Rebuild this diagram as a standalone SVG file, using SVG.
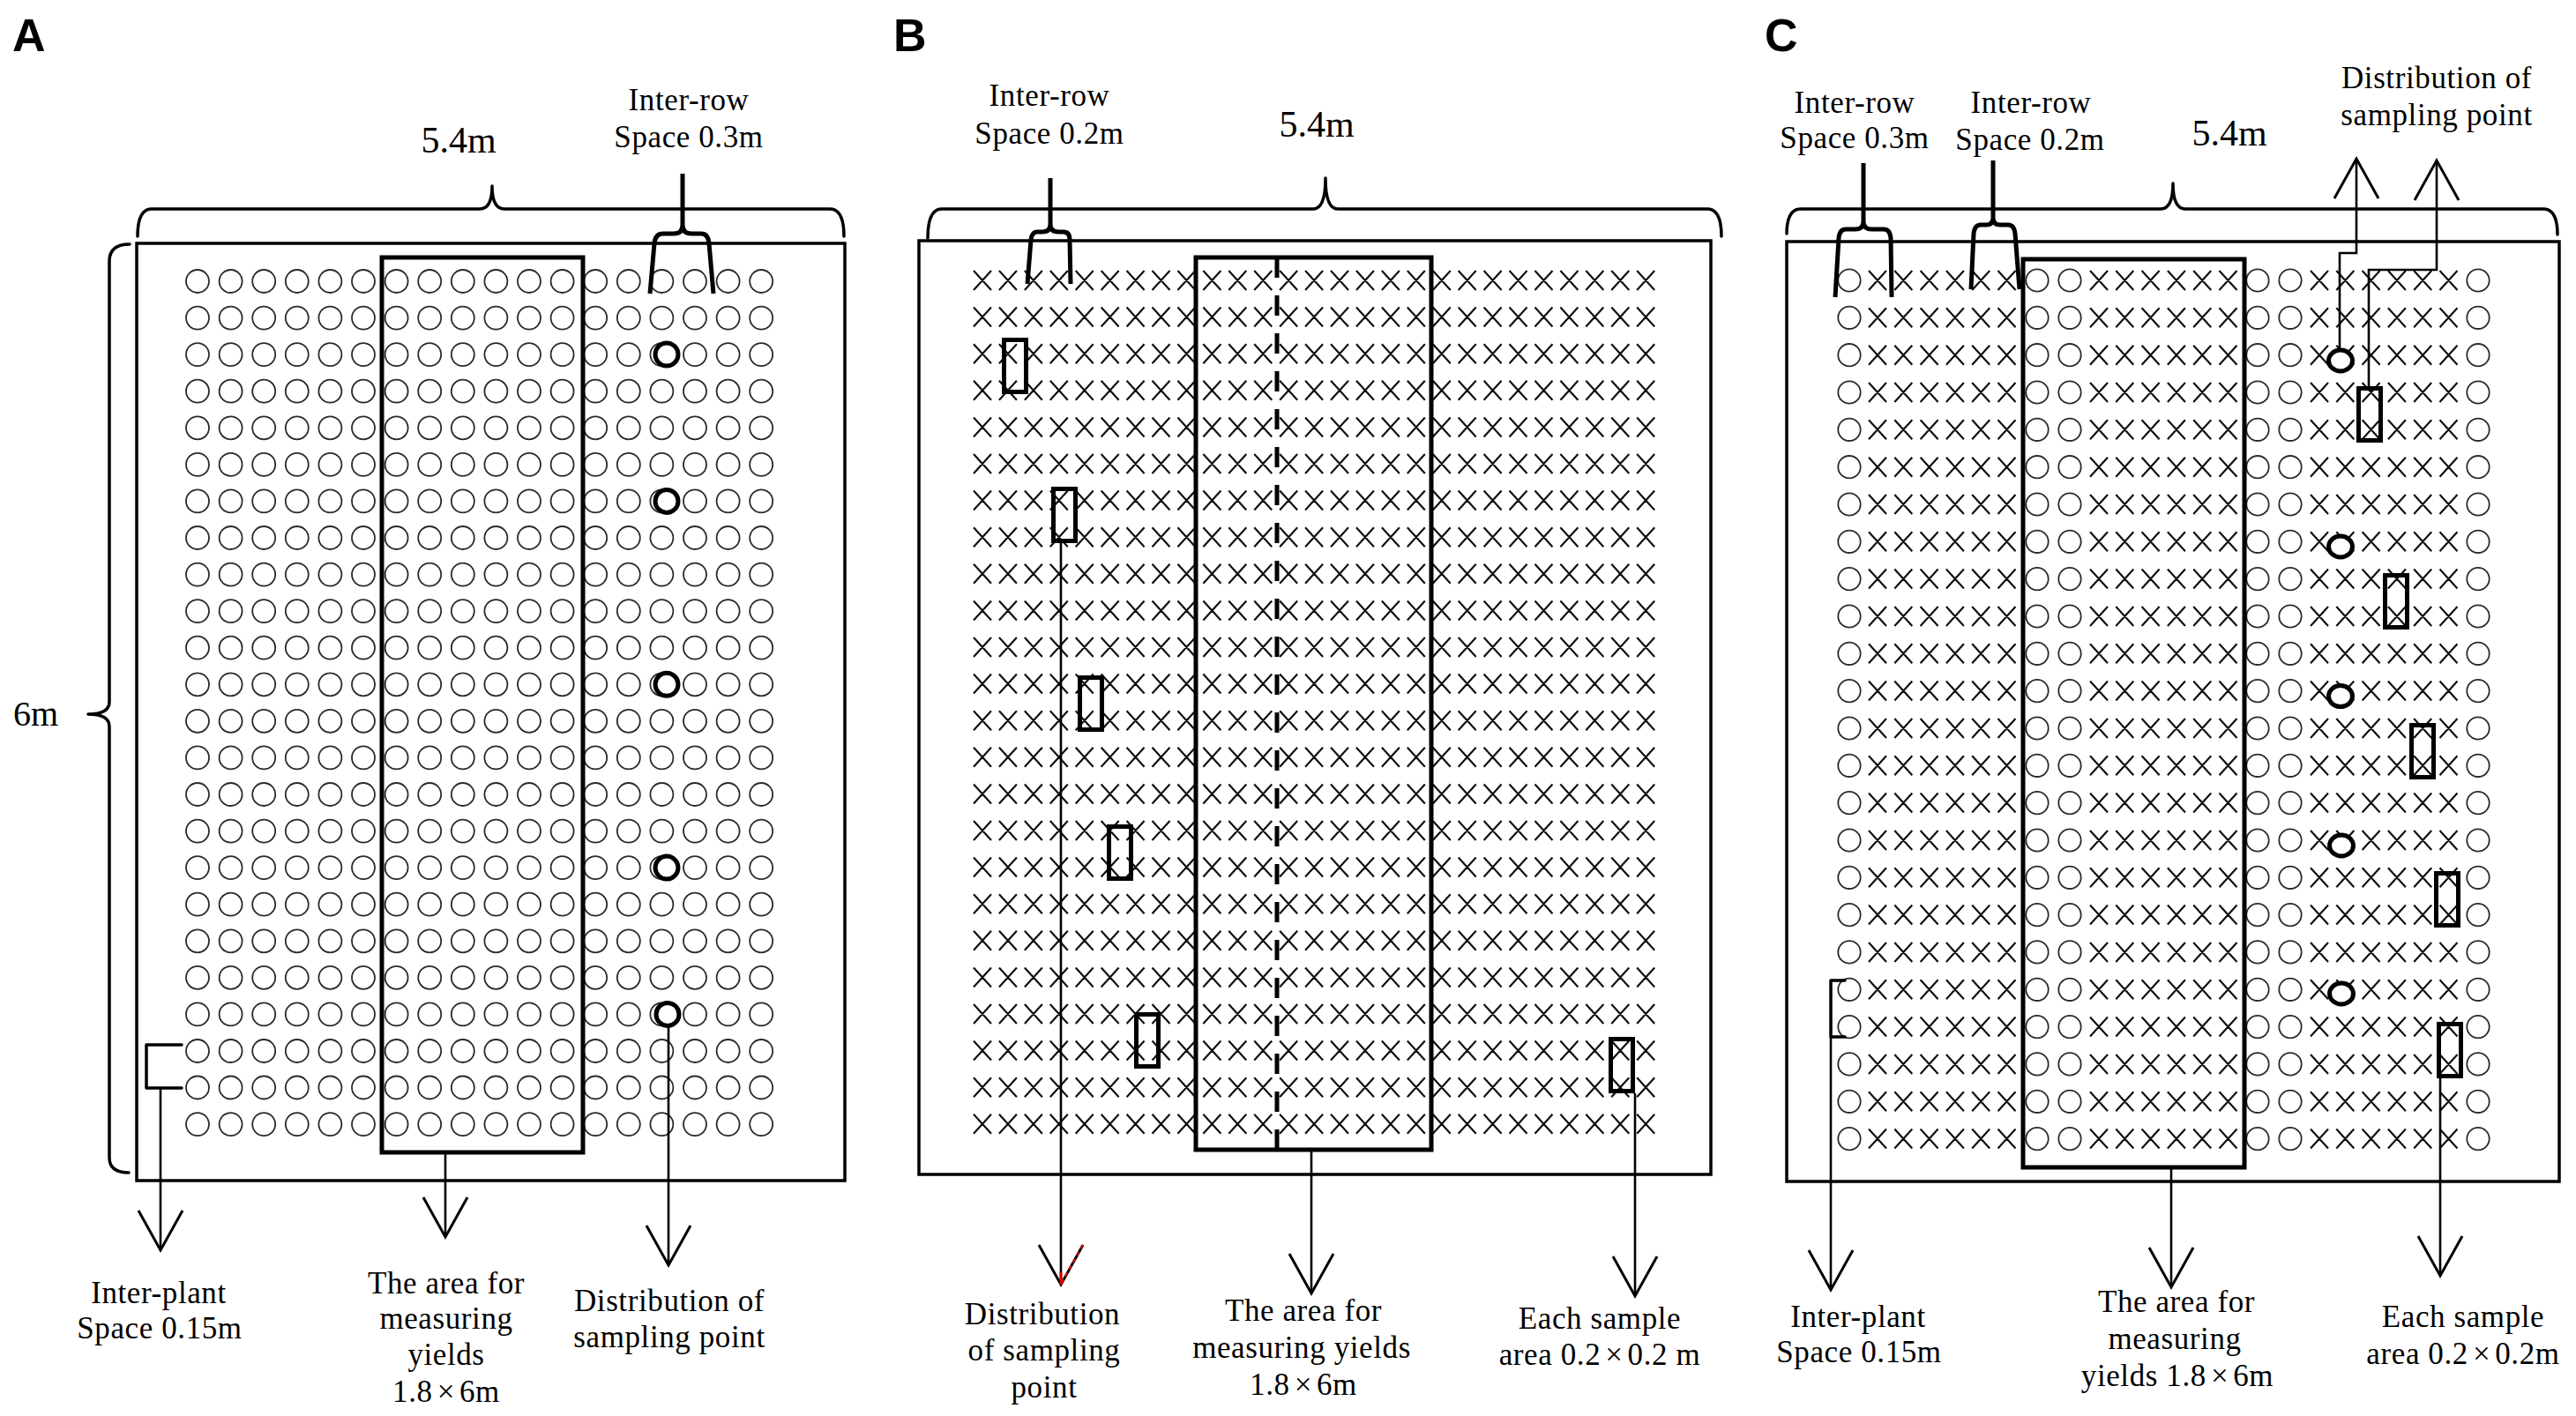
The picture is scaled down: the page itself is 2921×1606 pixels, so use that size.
<svg xmlns="http://www.w3.org/2000/svg" xmlns:xlink="http://www.w3.org/1999/xlink" width="2921" height="1606" viewBox="0 0 2921 1606">
<style>
.t{font-family:"Liberation Serif","Times New Roman",serif;font-size:35px;letter-spacing:0.6px;fill:#000;text-anchor:middle}
.big{font-size:42px;letter-spacing:0}
.pl{font-family:"Liberation Sans",Arial,sans-serif;font-weight:bold;font-size:52px;fill:#000}
.ox{fill:none;stroke:#2a2a2a;stroke-width:1.8}
.xx{fill:none;stroke:#111;stroke-width:2.2}
.frame{fill:none;stroke:#000;stroke-width:3.5}
.area{fill:none;stroke:#000;stroke-width:5}
.brace{fill:none;stroke:#000;stroke-width:3.5;stroke-linejoin:round;stroke-linecap:round}
.brace2{fill:none;stroke:#000;stroke-width:5;stroke-linejoin:round}
.samp{fill:none;stroke:#000;stroke-width:5}
.dot{fill:#fff;stroke:#000;stroke-width:5}
.lead{fill:none;stroke:#000;stroke-width:2.6;marker-end:url(#ah)}
</style>
<defs>
<marker id="ah" markerUnits="userSpaceOnUse" viewBox="-50 -30 56 60" refX="0" refY="0" markerWidth="56" markerHeight="60" orient="auto" overflow="visible">
<path d="M-45,-25 L0,0 L-45,25" fill="none" stroke="#000" stroke-width="3"/>
</marker>
<marker id="ahr" markerUnits="userSpaceOnUse" viewBox="-50 -30 56 60" refX="0" refY="0" markerWidth="56" markerHeight="60" orient="auto" overflow="visible">
<path d="M-45,-25 L0,0 L-45,25" fill="none" stroke="#000" stroke-width="3"/>
<path d="M-45,-25 L0,0" fill="none" stroke="#d00" stroke-width="2" stroke-dasharray="5 4"/>
<path d="M-14,0 L0,0" fill="none" stroke="#d00" stroke-width="3"/>
</marker>
<g id="rowA" class="ox">
<circle cx="224" cy="0" r="13"/><circle cx="261.6" cy="0" r="13"/><circle cx="299.2" cy="0" r="13"/><circle cx="336.8" cy="0" r="13"/><circle cx="374.4" cy="0" r="13"/><circle cx="412" cy="0" r="13"/><circle cx="449.6" cy="0" r="13"/><circle cx="487.2" cy="0" r="13"/><circle cx="524.8" cy="0" r="13"/><circle cx="562.4" cy="0" r="13"/><circle cx="600" cy="0" r="13"/><circle cx="637.6" cy="0" r="13"/><circle cx="675.2" cy="0" r="13"/><circle cx="712.8" cy="0" r="13"/><circle cx="750.4" cy="0" r="13"/><circle cx="788" cy="0" r="13"/><circle cx="825.6" cy="0" r="13"/><circle cx="863.2" cy="0" r="13"/>
</g>
<path id="rowB" class="xx" d="M1104,-11 l20,22m0,-22l-20,22m28.93,-22 l20,22m0,-22l-20,22m28.93,-22 l20,22m0,-22l-20,22m28.93,-22 l20,22m0,-22l-20,22m28.93,-22 l20,22m0,-22l-20,22m28.93,-22 l20,22m0,-22l-20,22m28.93,-22 l20,22m0,-22l-20,22m28.93,-22 l20,22m0,-22l-20,22m28.93,-22 l20,22m0,-22l-20,22m28.93,-22 l20,22m0,-22l-20,22m28.93,-22 l20,22m0,-22l-20,22m28.93,-22 l20,22m0,-22l-20,22m28.93,-22 l20,22m0,-22l-20,22m28.93,-22 l20,22m0,-22l-20,22m28.93,-22 l20,22m0,-22l-20,22m28.93,-22 l20,22m0,-22l-20,22m28.93,-22 l20,22m0,-22l-20,22m28.93,-22 l20,22m0,-22l-20,22m28.93,-22 l20,22m0,-22l-20,22m28.93,-22 l20,22m0,-22l-20,22m28.93,-22 l20,22m0,-22l-20,22m28.93,-22 l20,22m0,-22l-20,22m28.93,-22 l20,22m0,-22l-20,22m28.93,-22 l20,22m0,-22l-20,22m28.93,-22 l20,22m0,-22l-20,22m28.93,-22 l20,22m0,-22l-20,22m28.93,-22 l20,22m0,-22l-20,22"/>
<g id="rowC">
<g class="ox"><circle cx="2097" cy="0" r="12.7"/><circle cx="2310" cy="0" r="12.7"/><circle cx="2347" cy="0" r="12.7"/><circle cx="2560" cy="0" r="12.7"/><circle cx="2597" cy="0" r="12.7"/><circle cx="2810" cy="0" r="12.7"/></g>
<path class="xx" d="M2119,-11 l20,22m0,-22l-20,22m29.3,-22 l20,22m0,-22l-20,22m29.3,-22 l20,22m0,-22l-20,22m29.3,-22 l20,22m0,-22l-20,22m29.3,-22 l20,22m0,-22l-20,22m29.3,-22 l20,22m0,-22l-20,22 M2370,-11 l20,22m0,-22l-20,22m29.3,-22 l20,22m0,-22l-20,22m29.3,-22 l20,22m0,-22l-20,22m29.3,-22 l20,22m0,-22l-20,22m29.3,-22 l20,22m0,-22l-20,22m29.3,-22 l20,22m0,-22l-20,22 M2620,-11 l20,22m0,-22l-20,22m29.3,-22 l20,22m0,-22l-20,22m29.3,-22 l20,22m0,-22l-20,22m29.3,-22 l20,22m0,-22l-20,22m29.3,-22 l20,22m0,-22l-20,22m29.3,-22 l20,22m0,-22l-20,22"/>
</g>
</defs>
<rect width="2921" height="1606" fill="#fff"/>

<!-- Panel A -->
<g id="panelA">
<text class="pl" x="14" y="58">A</text>
<g id="A-field">
<rect class="frame" x="155" y="276" width="803" height="1063"/>
<g id="A-plants">
<use xlink:href="#rowA" y="319"/><use xlink:href="#rowA" y="360.6"/><use xlink:href="#rowA" y="402.1"/><use xlink:href="#rowA" y="443.7"/><use xlink:href="#rowA" y="485.3"/><use xlink:href="#rowA" y="526.9"/><use xlink:href="#rowA" y="568.4"/><use xlink:href="#rowA" y="610"/><use xlink:href="#rowA" y="651.6"/><use xlink:href="#rowA" y="693.1"/><use xlink:href="#rowA" y="734.7"/><use xlink:href="#rowA" y="776.3"/><use xlink:href="#rowA" y="817.8"/><use xlink:href="#rowA" y="859.4"/><use xlink:href="#rowA" y="901"/><use xlink:href="#rowA" y="942.6"/><use xlink:href="#rowA" y="984.1"/><use xlink:href="#rowA" y="1025.7"/><use xlink:href="#rowA" y="1067.3"/><use xlink:href="#rowA" y="1108.8"/><use xlink:href="#rowA" y="1150.4"/><use xlink:href="#rowA" y="1192"/><use xlink:href="#rowA" y="1233.5"/><use xlink:href="#rowA" y="1275.1"/>
</g>
</g>
<rect id="A-yield-area" class="area" x="433" y="292" width="228" height="1015"/>
<g id="A-sampling-points">
<circle class="dot" cx="756" cy="402" r="13"/><circle class="dot" cx="756" cy="568.4" r="13"/><circle class="dot" cx="756" cy="776.3" r="13"/><circle class="dot" cx="756" cy="984.1" r="13"/><circle class="dot" cx="757" cy="1150.4" r="13"/>
</g>
<g id="A-dimensions">
<path class="brace" d="M156,268 Q156,237 172,237 L544,237 Q558,237 558,211 Q558,237 572,237 L941,237 Q957,237 957,268"/>
<path class="brace" d="M147,277 Q124,277 124,296 L124,796 Q124,810 100,810 Q124,810 124,824 L124,1313 Q124,1330 146,1330"/>
<path class="brace2" d="M774,197 L774,255 Q774,265 764,265 L752,265 Q743,265 742,276 L737,333 M774,255 Q774,265 784,265 L795,265 Q803,265 804,276 L809,333"/>
<path class="brace" d="M206,1185 L166,1185 L166,1234 L206,1234"/>
<text class="t big" x="520" y="173">5.4m</text>
<text class="t" x="781" y="125">Inter-row</text>
<text class="t" x="781" y="167">Space 0.3m</text>
<text class="t" x="15" y="823" style="text-anchor:start;font-size:40px;letter-spacing:0">6m</text>
</g>
<g id="A-labels">
<text class="t" x="180" y="1478">Inter-plant</text>
<text class="t" x="181" y="1518">Space 0.15m</text>
<text class="t" x="506" y="1467">The area for</text>
<text class="t" x="506" y="1507">measuring</text>
<text class="t" x="506" y="1548">yields</text>
<text class="t" x="506" y="1590">1.8<tspan dx="5">×</tspan><tspan dx="5">6m</tspan></text>
<text class="t" x="759" y="1487">Distribution of</text>
<text class="t" x="759" y="1528">sampling point</text>
</g>
</g>

<!-- Panel B -->
<g id="panelB">
<text class="pl" x="1013" y="58">B</text>
<g id="B-field">
<rect class="frame" x="1042" y="273" width="898" height="1059"/>
<g id="B-plants">
<use xlink:href="#rowB" y="318"/><use xlink:href="#rowB" y="359.6"/><use xlink:href="#rowB" y="401.2"/><use xlink:href="#rowB" y="442.8"/><use xlink:href="#rowB" y="484.4"/><use xlink:href="#rowB" y="526"/><use xlink:href="#rowB" y="567.6"/><use xlink:href="#rowB" y="609.2"/><use xlink:href="#rowB" y="650.8"/><use xlink:href="#rowB" y="692.4"/><use xlink:href="#rowB" y="734"/><use xlink:href="#rowB" y="775.6"/><use xlink:href="#rowB" y="817.2"/><use xlink:href="#rowB" y="858.8"/><use xlink:href="#rowB" y="900.4"/><use xlink:href="#rowB" y="942"/><use xlink:href="#rowB" y="983.6"/><use xlink:href="#rowB" y="1025.2"/><use xlink:href="#rowB" y="1066.8"/><use xlink:href="#rowB" y="1108.4"/><use xlink:href="#rowB" y="1150"/><use xlink:href="#rowB" y="1191.6"/><use xlink:href="#rowB" y="1233.2"/><use xlink:href="#rowB" y="1274.8"/>
</g>
</g>
<rect id="B-yield-area" class="area" x="1356" y="292" width="267" height="1012"/>
<line id="B-divider" x1="1448" y1="292" x2="1448" y2="1304" stroke="#000" stroke-width="5" stroke-dasharray="23 20"/>
<g id="B-sample-areas">
<rect class="samp" x="1138.5" y="385.5" width="25" height="59"/>
<rect class="samp" x="1194.5" y="554.5" width="25" height="59"/>
<rect class="samp" x="1224.5" y="768.5" width="25" height="59"/>
<rect class="samp" x="1257.5" y="937.5" width="25" height="59"/>
<rect class="samp" x="1288.5" y="1150.5" width="25" height="59"/>
<rect class="samp" x="1826.5" y="1178.5" width="25" height="59"/>
</g>
<g id="B-dimensions">
<path class="brace" d="M1052,270 Q1052,237 1068,237 L1489,237 Q1503,237 1503,202 Q1503,237 1517,237 L1936,237 Q1952,237 1952,268"/>
<path class="brace2" d="M1191,202 L1191,254 Q1191,263 1182,263 L1176,263 Q1170,263 1169,272 L1165,322 M1191,254 Q1191,263 1200,263 L1206,263 Q1213,263 1213,272 L1214,322"/>
<text class="t big" x="1493" y="155">5.4m</text>
<text class="t" x="1190" y="120">Inter-row</text>
<text class="t" x="1190" y="163">Space 0.2m</text>
</g>
<g id="B-labels">
<text class="t" x="1182" y="1502">Distribution</text>
<text class="t" x="1184" y="1543">of sampling</text>
<text class="t" x="1184" y="1585">point</text>
<text class="t" x="1478" y="1498">The area for</text>
<text class="t" x="1476" y="1540">measuring yields</text>
<text class="t" x="1478" y="1582">1.8<tspan dx="5">×</tspan><tspan dx="5">6m</tspan></text>
<text class="t" x="1814" y="1507">Each sample</text>
<text class="t" x="1814" y="1548">area 0.2<tspan dx="5">×</tspan><tspan dx="5">0.2 m</tspan></text>
</g>
</g>

<!-- Panel C -->
<g id="panelC">
<text class="pl" x="2001" y="58">C</text>
<g id="C-field">
<rect class="frame" x="2026" y="274" width="876" height="1066"/>
<g id="C-plants">
<use xlink:href="#rowC" y="318"/><use xlink:href="#rowC" y="360.3"/><use xlink:href="#rowC" y="402.7"/><use xlink:href="#rowC" y="445"/><use xlink:href="#rowC" y="487.3"/><use xlink:href="#rowC" y="529.7"/><use xlink:href="#rowC" y="572"/><use xlink:href="#rowC" y="614.3"/><use xlink:href="#rowC" y="656.6"/><use xlink:href="#rowC" y="699"/><use xlink:href="#rowC" y="741.3"/><use xlink:href="#rowC" y="783.6"/><use xlink:href="#rowC" y="826"/><use xlink:href="#rowC" y="868.3"/><use xlink:href="#rowC" y="910.6"/><use xlink:href="#rowC" y="953"/><use xlink:href="#rowC" y="995.3"/><use xlink:href="#rowC" y="1037.6"/><use xlink:href="#rowC" y="1079.9"/><use xlink:href="#rowC" y="1122.3"/><use xlink:href="#rowC" y="1164.6"/><use xlink:href="#rowC" y="1206.9"/><use xlink:href="#rowC" y="1249.3"/><use xlink:href="#rowC" y="1291.6"/>
</g>
</g>
<rect id="C-yield-area" class="area" x="2294" y="294" width="251" height="1030"/>
<g id="C-sampling-points">
<ellipse class="dot" cx="2654" cy="409" rx="13.5" ry="12"/><ellipse class="dot" cx="2654" cy="620" rx="13.5" ry="12"/><ellipse class="dot" cx="2654" cy="789.6" rx="13.5" ry="12"/><ellipse class="dot" cx="2655" cy="959" rx="13.5" ry="12"/><ellipse class="dot" cx="2655" cy="1127" rx="13.5" ry="12"/>
</g>
<g id="C-sample-areas">
<rect class="samp" x="2674.5" y="440.5" width="25" height="59"/>
<rect class="samp" x="2704.5" y="652.5" width="25" height="59"/>
<rect class="samp" x="2734.5" y="822.5" width="25" height="59"/>
<rect class="samp" x="2762.5" y="990.5" width="25" height="59"/>
<rect class="samp" x="2765.5" y="1161.5" width="25" height="59"/>
</g>
<g id="C-dimensions">
<path class="brace" d="M2026,265 Q2026,237 2042,237 L2450,237 Q2464,237 2464,208 Q2464,237 2478,237 L2884,237 Q2900,237 2900,266"/>
<path class="brace2" d="M2113,185 L2113,251 Q2113,260 2104,260 L2093,260 Q2086,260 2085,270 L2081,337 M2113,251 Q2113,260 2122,260 L2136,260 Q2143,260 2144,270 L2145,337"/>
<path class="brace2" d="M2260,182 L2260,247 Q2260,255 2252,255 L2246,255 Q2239,255 2238,265 L2235,328 M2260,247 Q2260,255 2268,255 L2277,255 Q2284,255 2285,265 L2290,328"/>
<path class="brace" d="M2092,1112 L2076,1112 L2076,1176 L2092,1176"/>
<text class="t big" x="2528" y="165">5.4m</text>
<text class="t" x="2103" y="128">Inter-row</text>
<text class="t" x="2103" y="168">Space 0.3m</text>
<text class="t" x="2303" y="128">Inter-row</text>
<text class="t" x="2302" y="170">Space 0.2m</text>
<text class="t" x="2763" y="100">Distribution of</text>
<text class="t" x="2763" y="142">sampling point</text>
</g>
<g id="C-labels">
<text class="t" x="2107" y="1505">Inter-plant</text>
<text class="t" x="2108" y="1545">Space 0.15m</text>
<text class="t" x="2468" y="1488">The area for</text>
<text class="t" x="2466" y="1530">measuring</text>
<text class="t" x="2469" y="1572">yields 1.8<tspan dx="5">×</tspan><tspan dx="5">6m</tspan></text>
<text class="t" x="2793" y="1505">Each sample</text>
<text class="t" x="2793" y="1547">area 0.2<tspan dx="5">×</tspan><tspan dx="5">0.2m</tspan></text>
</g>
</g>

<!-- Connectors -->
<g id="connectors">
<path class="lead" d="M182,1234 L182,1418"/>
<path class="lead" d="M505,1309 L505,1403"/>
<path class="lead" d="M758,1163 L758,1435"/>
<path class="lead" d="M1203,616 L1203,1457" style="marker-end:url(#ahr)"/>
<path class="lead" d="M1487,1306 L1487,1467"/>
<path class="lead" d="M1854,1240 L1854,1470"/>
<path class="lead" d="M2076,1176 L2076,1463"/>
<path class="lead" d="M2462,1326 L2462,1460"/>
<path class="lead" d="M2767,1223 L2767,1447"/>
<path class="lead" d="M2653,396 L2653,287 L2672,287 L2672,180"/>
<path class="lead" d="M2686,438 L2686,306 L2763,306 L2763,182"/>
</g>
</svg>
